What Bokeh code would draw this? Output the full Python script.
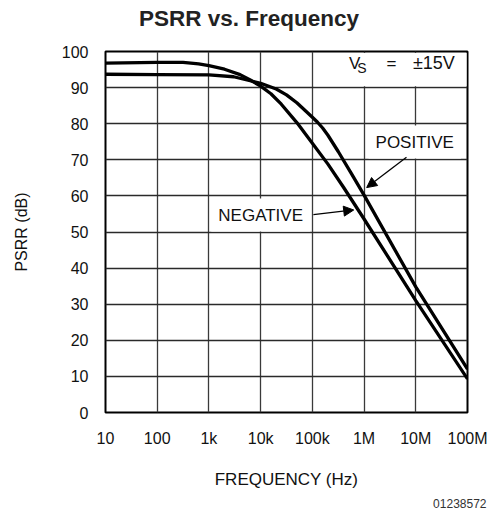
from bokeh.plotting import figure
from bokeh.models import (Range1d, FixedTicker, Label, Arrow, NormalHead, BoxAnnotation)
from bokeh.embed import file_html
from bokeh.resources import INLINE

# ---- data ----
pos_freq = [10, 100, 1000, 3000, 10000, 20000, 31600, 50100, 70800, 100000, 126000,
            158000, 200000, 316000, 562000, 1e6, 1e7, 1e8]
pos_db = [93.7, 93.6, 93.5, 93.0, 91.2, 89.6, 88.0, 85.8, 83.8, 81.8, 80.4,
          78.8, 76.8, 72.3, 66.3, 60.2, 34.8, 12.0]

neg_freq = [10, 100, 316, 631, 1000, 2000, 4000, 6300, 10000, 15800, 25100, 50100,
            100000, 200000, 400000, 1e6, 1e7, 1e8]
neg_db = [96.8, 97.0, 97.0, 96.6, 96.1, 95.1, 93.6, 92.1, 90.4, 88.3, 85.4, 80.3,
          74.6, 68.8, 62.4, 53.6, 31.0, 9.3]

x_ticks = [10, 100, 1000, 10000, 100000, 1000000, 10000000, 100000000]
x_tick_labels = ["10", "100", "1k", "10k", "100k", "1M", "10M", "100M"]
y_ticks = [0, 10, 20, 30, 40, 50, 60, 70, 80, 90, 100]

FONT = "Liberation Sans"

p = figure(width=492, height=514, x_axis_type="log",
           x_range=Range1d(10, 1e8), y_range=Range1d(0, 100),
           output_backend="svg", toolbar_location=None,
           min_border_left=105, min_border_right=25,
           min_border_top=51, min_border_bottom=102)

# title drawn as a label in the top panel (screen units relative to that panel)
p.add_layout(Label(x=143.5, y=33.5, x_units="screen", y_units="screen",
                   text="PSRR vs. Frequency", text_font=FONT, text_font_size="22.5px",
                   text_font_style="bold", text_color="#222222",
                   text_align="center", text_baseline="middle"), "above")

# figure code in the bottom panel, below the x axis
p.add_layout(Label(x=381, y=-3, x_units="screen", y_units="screen",
                   text="01238572", text_font=FONT, text_font_size="12px",
                   text_color="#333333", text_align="right", text_baseline="middle"), "below")

# axes
p.xaxis.ticker = FixedTicker(ticks=x_ticks)
p.xaxis.major_label_overrides = {t: l for t, l in zip(x_ticks, x_tick_labels)}
p.yaxis.ticker = FixedTicker(ticks=y_ticks)
for ax in (p.xaxis, p.yaxis):
    ax.axis_line_color = None
    ax.major_tick_line_color = None
    ax.minor_tick_line_color = None
    ax.major_label_text_font = FONT
    ax.major_label_text_font_size = "16px"
    ax.major_label_text_color = "#111111"
    ax.axis_label_text_font = FONT
    ax.axis_label_text_font_style = "normal"
    ax.axis_label_text_color = "#111111"

p.xaxis.axis_label = "FREQUENCY (Hz)"
p.xaxis.axis_label_text_font_size = "17px"
p.xaxis.major_label_standoff = 11
p.xaxis.axis_label_standoff = 20

p.yaxis.axis_label = "PSRR (dB)"
p.yaxis.axis_label_text_font_size = "16px"
p.yaxis.major_label_standoff = 11
p.yaxis.axis_label_standoff = 29

# grid & frame
p.xgrid.grid_line_color = "#3a3a3a"
p.ygrid.grid_line_color = "#2a2a2a"
p.xgrid.grid_line_width = 1.3
p.ygrid.grid_line_width = 1.4
p.outline_line_color = "black"
p.outline_line_width = 2
p.background_fill_color = "white"
p.border_fill_color = "white"

# curves
p.line(pos_freq, pos_db, line_color="black", line_width=3.3)
p.line(neg_freq, neg_db, line_color="black", line_width=3.3)

# V_S annotation box
p.add_layout(BoxAnnotation(left=1.08e5, right=9.6e7, bottom=90.4, top=99.6,
                           fill_color="white", fill_alpha=1.0, line_color=None))
lab_kw = dict(text_font=FONT, text_color="#111111", text_baseline="middle", text_align="center")
p.add_layout(Label(x=10 ** 5.82, y=96.8, text="V", text_font_size="17px", **lab_kw))
p.add_layout(Label(x=10 ** 5.96, y=95.3, text="S", text_font_size="14px", **lab_kw))
p.add_layout(Label(x=10 ** 6.53, y=96.8, text="=", text_font_size="17px", **lab_kw))
p.add_layout(Label(x=10 ** 7.35, y=96.8, text="±15V", text_font_size="18px", **lab_kw))

# POSITIVE / NEGATIVE labels with white background
p.add_layout(Label(x=10 ** 6.98, y=74.9, text="POSITIVE", text_font_size="17px",
                   background_fill_color="white", padding=7, **lab_kw))
p.add_layout(Label(x=10 ** 4.0, y=54.7, text="NEGATIVE", text_font_size="17px",
                   background_fill_color="white", padding=7, **lab_kw))

p.add_layout(Arrow(x_start=10 ** 6.82, y_start=70.7, x_end=10 ** 6.05, y_end=62.3,
                   line_color="black", line_width=1.3,
                   end=NormalHead(size=10, fill_color="black", line_color="black")))
p.add_layout(Arrow(x_start=10 ** 5.02, y_start=54.8, x_end=10 ** 5.80, y_end=56.1,
                   line_color="black", line_width=1.3,
                   end=NormalHead(size=10, fill_color="black", line_color="black")))

open("out.html", "w").write(file_html(p, INLINE))
